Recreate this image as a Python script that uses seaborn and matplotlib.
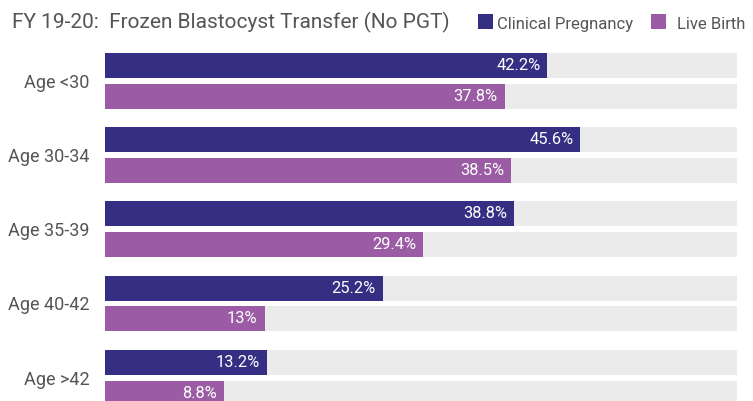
import matplotlib
matplotlib.use("Agg")
import matplotlib.pyplot as plt
import matplotlib.font_manager as fm
from matplotlib.patches import Rectangle
import seaborn as sns
import pandas as pd

# ---- data ----
ages = ["Age <30", "Age 30-34", "Age 35-39", "Age 40-42", "Age >42"]
clinical_pregnancy = [42.2, 45.6, 38.8, 25.2, 13.2]
live_birth = [37.8, 38.5, 29.4, 13.0, 8.8]
series_names = ["Clinical Pregnancy", "Live Birth"]
title = "FY 19-20:  Frozen Blastocyst Transfer (No PGT)"

# ---- style ----
colors = ["#352f84", "#9b5ca5"]
track_color = "#ebebeb"
text_color = "#555555"
x_base, x_max = -3.5, 61.8

sns.set_theme(style="white")
plt.rcParams["font.family"] = ["Roboto", "DejaVu Sans"]
fp = fm.FontProperties(family=["Roboto", "DejaVu Sans"])

W, H = 753, 401
fig = plt.figure(figsize=(W / 100, H / 100), dpi=100)
renderer = fig.canvas.get_renderer()


def fit_size(s, target_px, base=12.0):
    t = fig.text(0, 0, s, fontproperties=fp, fontsize=base)
    w = t.get_window_extent(renderer).width
    t.remove()
    return base * target_px / w


title_fs = fit_size(title, 439)
tick_fs = fit_size("Age <30", 65)
val_fs = fit_size("25.2%", 44)
leg_fs = fit_size(series_names[0], 136)

df = pd.DataFrame({
    "age": ages * 2,
    "value": clinical_pregnancy + live_birth,
    "series": [series_names[0]] * len(ages) + [series_names[1]] * len(ages),
})

ax = fig.add_axes([105 / W, 0, (737 - 105) / W, (401 - 40) / H])

sns.barplot(data=df, y="age", x="value", hue="series", orient="h",
            palette=colors, width=0.828, gap=0.186, legend=False, ax=ax,
            saturation=1, zorder=2, linewidth=0)

for cont, vals in zip(ax.containers, [clinical_pregnancy, live_birth]):
    for patch, v in zip(cont.patches, vals):
        patch.set_x(x_base)
        patch.set_width(v - x_base)
        patch.set_linewidth(0)
        y, h = patch.get_y(), patch.get_height()
        ax.barh(y + h / 2, x_max - x_base, left=x_base, height=h,
                color=track_color, zorder=1, linewidth=0)
        ax.text(v - 0.72, y + h / 2, f"{v:g}%", ha="right", va="center",
                color="white", fontproperties=fp, fontsize=val_fs, zorder=3)

g_center = 80.85
g_step = 74.2
ax.set_xlim(x_base, x_max)
ax.set_ylim((401 - g_center) / g_step, (40 - g_center) / g_step)
ax.set_xlabel("")
ax.set_ylabel("")
ax.set_xticks([])
ax.tick_params(axis="y", length=0, pad=11)
for lab in ax.get_yticklabels():
    lab.set_fontproperties(fp)
    lab.set_fontsize(tick_fs)
    lab.set_color(text_color)
for s in ax.spines.values():
    s.set_visible(False)

fig.text(12.5 / W, 1 - 28.5 / H, title, ha="left", va="baseline",
         fontproperties=fp, fontsize=title_fs, color=text_color)

# legend: squares + labels
sq_x = [478, 651]
txt_x = [497, 677]
for sx, tx, c, name in zip(sq_x, txt_x, colors, series_names):
    fig.add_artist(Rectangle((sx / W, 1 - 29 / H), 15 / W, 15 / H,
                             transform=fig.transFigure, color=c, linewidth=0))
    fig.text(tx / W, 1 - 29 / H, name, ha="left", va="baseline",
             fontproperties=fp, fontsize=leg_fs, color=text_color)

fig.savefig("out.png", dpi=100)
